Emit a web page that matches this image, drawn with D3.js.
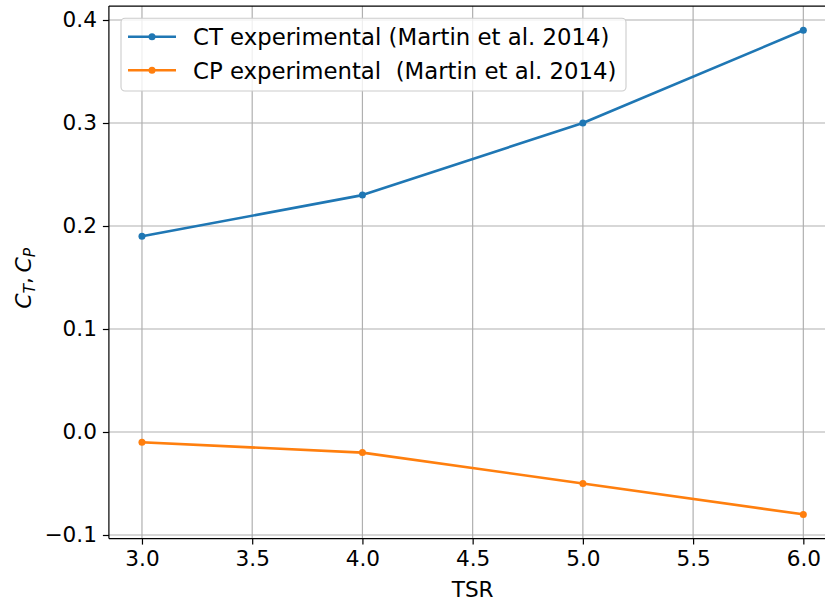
<!DOCTYPE html>
<html>
<head>
<meta charset="utf-8">
<script src="https://cdn.jsdelivr.net/npm/d3@7"></script>
<style>
  html, body { margin: 0; padding: 0; background: #fff; }
  svg { display: block; font-family: "DejaVu Sans", sans-serif; }
</style>
</head>
<body>
<svg id="chart" width="825" height="602"></svg>
<script>
// Thrust and power coefficients versus tip speed ratio
const tsr = [3.0, 4.0, 5.0, 6.0];
const ctValues = [0.19, 0.23, 0.30, 0.39];
const cpValues = [-0.01, -0.02, -0.05, -0.08];
const xTicks = [3.0, 3.5, 4.0, 4.5, 5.0, 5.5, 6.0];
const yTicks = [-0.1, 0.0, 0.1, 0.2, 0.3, 0.4];
const seriesNames = ["CT experimental (Martin et al. 2014)", "CP experimental\u00a0\u00a0(Martin et al. 2014)"];

const svg = d3.select("#chart");
const plot = { left: 108.9, right: 836.4, top: 6.1, bottom: 538.6 };

const x = d3.scaleLinear().domain([2.85, 6.15]).range([plot.left, plot.right]);
const y = d3.scaleLinear().domain([-0.1035, 0.4135]).range([plot.bottom, plot.top]);

const gridColor = "#b0b0b0";
const tickFont = "21.6px";

// grid
const grid = svg.append("g");
grid.selectAll("line.vx").data(xTicks).join("line")
  .attr("x1", d => x(d)).attr("x2", d => x(d))
  .attr("y1", plot.top).attr("y2", plot.bottom)
  .attr("stroke", gridColor).attr("stroke-width", 1.2);
grid.selectAll("line.hy").data(yTicks).join("line")
  .attr("y1", d => y(d)).attr("y2", d => y(d))
  .attr("x1", plot.left).attr("x2", plot.right)
  .attr("stroke", gridColor).attr("stroke-width", 1.2);

// series
const series = [
  { values: ctValues, color: "#1f77b4" },
  { values: cpValues, color: "#ff7f0e" }
];
const line = d3.line().x(d => x(d[0])).y(d => y(d[1]));
series.forEach(s => {
  const pts = tsr.map((t, i) => [t, s.values[i]]);
  svg.append("path").datum(pts)
    .attr("d", line).attr("fill", "none")
    .attr("stroke", s.color).attr("stroke-width", 2.6)
    .attr("stroke-linejoin", "round").attr("stroke-linecap", "square");
  svg.append("g").selectAll("circle").data(pts).join("circle")
    .attr("cx", d => x(d[0])).attr("cy", d => y(d[1]))
    .attr("r", 3.5).attr("fill", s.color);
});

// axes
const fmt = d3.format(".1f");
const xAxis = svg.append("g").attr("transform", `translate(0,${plot.bottom})`)
  .call(d3.axisBottom(x).tickValues(xTicks).tickFormat(fmt).tickSize(6).tickPadding(6));
const yAxis = svg.append("g").attr("transform", `translate(${plot.left},0)`)
  .call(d3.axisLeft(y).tickValues(yTicks).tickFormat(fmt).tickSize(6).tickPadding(6));
[xAxis, yAxis].forEach(a => {
  a.select(".domain").remove();
  a.selectAll(".tick line").attr("stroke", "#000").attr("stroke-width", 1.2);
  a.selectAll(".tick text").attr("fill", "#000")
    .style("font-size", tickFont).style("font-family", "DejaVu Sans");
});

// spines
const spine = (x1, y1, x2, y2) => svg.append("line")
  .attr("x1", x1).attr("y1", y1).attr("x2", x2).attr("y2", y2)
  .attr("stroke", "#000").attr("stroke-width", 1.2);
spine(plot.left, plot.top, plot.left, plot.bottom);
spine(plot.left, plot.bottom, plot.right, plot.bottom);
spine(plot.left, plot.top, plot.right, plot.top);

// axis labels
svg.append("text").attr("x", (x(3) + x(6)) / 2).attr("y", 597)
  .attr("text-anchor", "middle").style("font-size", "21.6px").text("TSR");

const yl = svg.append("text")
  .attr("transform", `translate(31,${(plot.top + plot.bottom) / 2 + 6}) rotate(-90)`)
  .attr("text-anchor", "middle").style("font-size", "22px");
yl.append("tspan").attr("font-style", "italic").text("C");
yl.append("tspan").attr("font-style", "italic").attr("font-size", "15.5px").attr("dy", 4).text("T");
yl.append("tspan").attr("dy", -4).text(",\u2009");
yl.append("tspan").attr("font-style", "italic").text("C");
yl.append("tspan").attr("font-style", "italic").attr("font-size", "15.5px").attr("dy", 4).text("P");

// legend
const lg = svg.append("g");
lg.append("rect").attr("x", 121).attr("y", 18.3).attr("width", 505).attr("height", 72.7)
  .attr("rx", 4).attr("fill", "#fff").attr("fill-opacity", 0.8)
  .attr("stroke", "#cccccc").attr("stroke-width", 1.1);
const rowsY = [36.7, 70.3];
series.forEach((s, i) => {
  lg.append("line").attr("x1", 128).attr("x2", 176).attr("y1", rowsY[i]).attr("y2", rowsY[i])
    .attr("stroke", s.color).attr("stroke-width", 2.6);
  lg.append("circle").attr("cx", 152).attr("cy", rowsY[i]).attr("r", 3.5).attr("fill", s.color);
  lg.append("text").attr("x", 193).attr("y", rowsY[i]).attr("dy", "0.36em")
    .style("font-size", "22.8px").attr("xml:space", "preserve").text(seriesNames[i]);
});
</script>
</body>
</html>
